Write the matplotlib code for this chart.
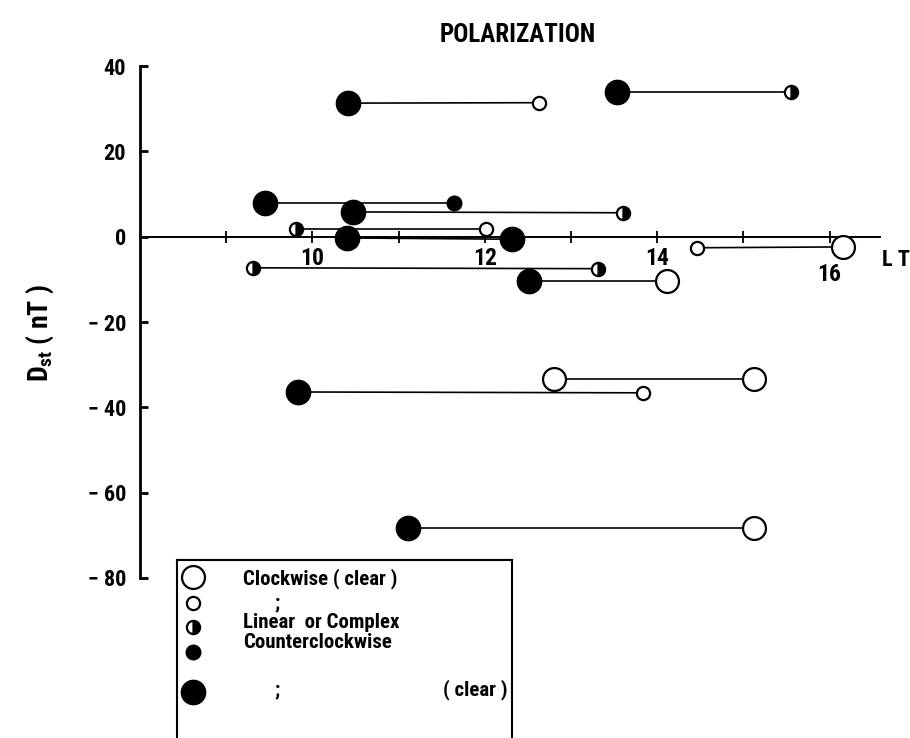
import matplotlib
matplotlib.use('Agg')
import matplotlib.pyplot as plt
from matplotlib import font_manager


def pick_font(names):
    for n in names:
        try:
            font_manager.findfont(font_manager.FontProperties(family=n), fallback_to_default=False)
            return n
        except ValueError:
            pass
    return 'DejaVu Sans'


fnt = pick_font(['Liberation Sans Narrow', 'DejaVu Sans Condensed', 'Roboto Condensed', 'DejaVu Sans'])
plt.rcParams['font.family'] = [fnt, 'DejaVu Sans']
plt.rcParams['font.weight'] = 'bold'
plt.rcParams['mathtext.fontset'] = 'custom'
plt.rcParams['mathtext.rm'] = fnt + ':bold'

# each event: polarization at start -> polarization at end (LT hours, Dst nT)
start_lt = [10.41, 13.53, 9.45, 10.47, 9.81, 10.40, 9.31, 14.46, 12.51, 12.80, 9.83, 11.11]
start_dst = [31.3, 33.9, 7.9, 5.8, 1.9, -0.3, -7.3, -2.6, -10.5, -33.4, -36.4, -68.2]
start_kind = ['CCW', 'CCW', 'CCW', 'CCW', 'lin', 'CCW', 'lin', 'cw', 'CCW', 'CW', 'CCW', 'CCW']
end_lt = [12.63, 15.55, 11.64, 13.60, 12.01, 12.32, 13.31, 16.16, 14.11, 15.12, 13.84, 15.12]
end_dst = [31.4, 33.9, 7.9, 5.6, 1.9, -0.6, -7.5, -2.4, -10.5, -33.4, -36.6, -68.2]
end_kind = ['cw', 'lin', 'ccw', 'lin', 'cw', 'CCW', 'lin', 'CW', 'CW', 'CW', 'cw', 'CW']

legend_kind = ['CW', 'cw', 'lin', 'ccw', 'CCW']
legend_text = ['Clockwise ( clear )', ';', 'Linear  or Complex', 'Counterclockwise', ';']

yticks = [-80, -60, -40, -20, 0, 20, 40]
ytick_labels = ['\u2212 80', '\u2212 60', '\u2212 40', '\u2212 20', '0', '20', '40']
xticks = [9, 10, 11, 12, 13, 14, 15, 16]
xtick_labels = ['', '10', '', '12', '', '14', '', '']

styles = {
    'CW': dict(marker='o', ms=16.5, mfc='white', mec='black', mew=1.6),
    'cw': dict(marker='o', ms=9.5, mfc='white', mec='black', mew=1.6),
    'lin': dict(marker='o', ms=9.5, fillstyle='right', mfc='black', mfcalt='white', mec='black', mew=1.6),
    'ccw': dict(marker='o', ms=10.5, mfc='black', mec='black', mew=1.0),
    'CCW': dict(marker='o', ms=17.5, mfc='black', mec='black', mew=1.0),
}

W, H = 910, 738
fig = plt.figure(figsize=(W / 100, H / 100), dpi=100)
ax = fig.add_axes([140 / W, 1 - 578 / H, 740 / W, 512 / H])

for j in range(len(start_lt)):
    ax.plot([start_lt[j], end_lt[j]], [start_dst[j], end_dst[j]], color='black', lw=1.2, zorder=2)
for j in range(len(start_lt)):
    ax.plot(start_lt[j], start_dst[j], ls='none', zorder=3, clip_on=False, **styles[start_kind[j]])
    ax.plot(end_lt[j], end_dst[j], ls='none', zorder=3, clip_on=False, **styles[end_kind[j]])

ax.set_xlim(8, 8 + 740 / 86.2)
ax.set_ylim(-80, 40)
ax.spines['top'].set_visible(False)
ax.spines['right'].set_visible(False)
ax.spines['bottom'].set_position(('data', 0))
ax.spines['bottom'].set_linewidth(1.4)
ax.spines['left'].set_linewidth(2.0)

ax.set_xticks(xticks)
ax.set_xticklabels(xtick_labels)
ax.tick_params(axis='x', direction='inout', length=9, width=1.3, pad=3, labelsize=17)
ax.set_yticks(yticks)
ax.set_yticklabels(ytick_labels)
ax.tick_params(axis='y', direction='in', length=6, width=2, pad=10, labelsize=16)
ax.annotate('16', (16, 0), xytext=(0, -27), textcoords='offset points',
            ha='center', va='center', fontsize=17, fontweight='bold')

fig.text(896 / W, 1 - 260 / H, 'L T', ha='center', va='center', fontsize=16, fontweight='bold')
fig.text(518 / W, 1 - 35 / H, 'POLARIZATION', ha='center', va='center', fontsize=18, fontweight='bold')
fig.text(40 / W, 1 - 333 / H, r'D$_{\rm st}$ ( nT )', rotation=90, ha='center', va='center',
         fontsize=20, fontweight='bold')

# legend box
lax = fig.add_axes([177 / W, 0, 335 / W, 178 / H], zorder=5)
lax.set_facecolor('white')
lax.set_xlim(0, 335)
lax.set_ylim(178, 0)
lax.set_xticks([])
lax.set_yticks([])
lax.spines['bottom'].set_visible(False)
for s in ['left', 'top', 'right']:
    lax.spines[s].set_linewidth(1.5)

row_y = [17, 43, 67, 92, 132]
text_y = [19, 43, 63, 83, 130]
for k in range(len(legend_kind)):
    lax.plot(16, row_y[k], ls='none', clip_on=False, **styles[legend_kind[k]])
    tx = 66 if legend_text[k] != ';' else 97
    lax.text(tx, text_y[k], legend_text[k], ha='left', va='center', fontsize=15, fontweight='bold')
lax.text(331, 130, '( clear )', ha='right', va='center', fontsize=15, fontweight='bold')

fig.savefig('out.png', dpi=100)
